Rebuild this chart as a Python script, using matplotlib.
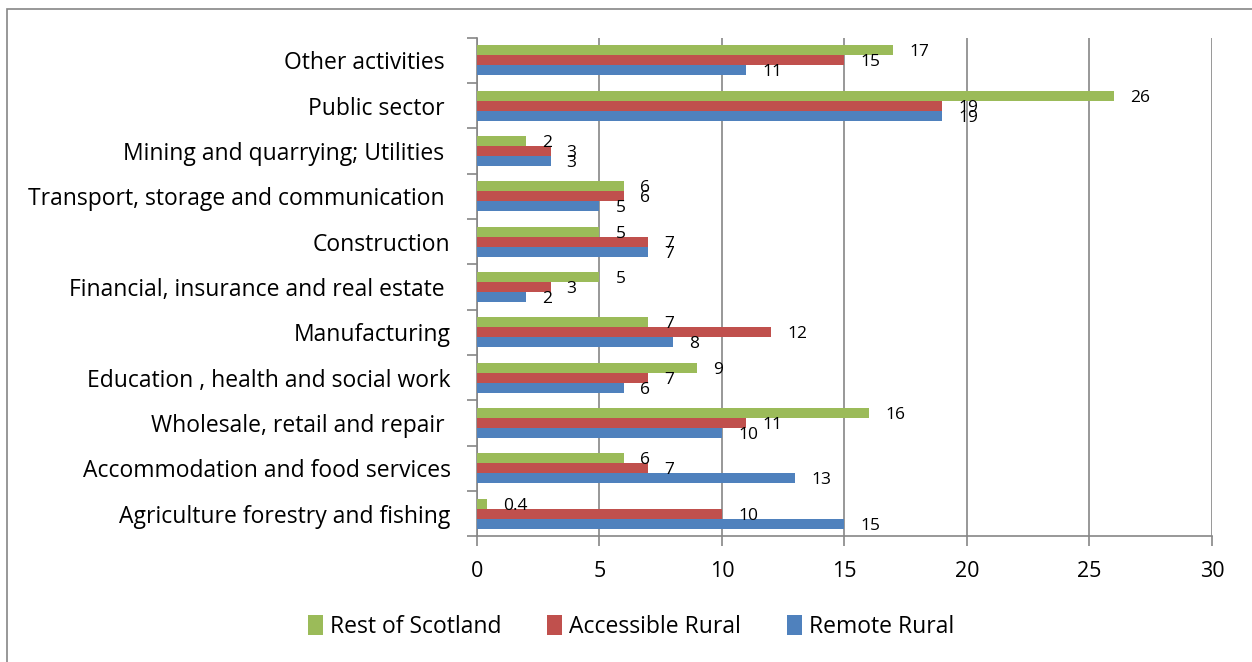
import matplotlib

matplotlib.use("Agg")
import matplotlib.pyplot as plt
import numpy as np
from matplotlib.patches import Rectangle

plt.rcParams["font.family"] = ["Open Sans", "DejaVu Sans"]

categories = [
    "Agriculture forestry and fishing",
    "Accommodation and food services",
    "Wholesale, retail and repair ",
    "Education , health and social work",
    "Manufacturing",
    "Financial, insurance and real estate ",
    "Construction",
    "Transport, storage and communication ",
    "Mining and quarrying; Utilities ",
    "Public sector ",
    "Other activities ",
]
remote_rural = [15, 13, 10, 6, 8, 2, 7, 5, 3, 19, 11]
accessible_rural = [10, 7, 11, 7, 12, 3, 7, 6, 3, 19, 15]
rest_of_scotland = [0.4, 6, 16, 9, 7, 5, 5, 6, 2, 26, 17]
x_ticks = [0, 5, 10, 15, 20, 25, 30]

COLORS = {
    "Remote Rural": "#4F81BD",
    "Accessible Rural": "#C0504D",
    "Rest of Scotland": "#9BBB59",
}
GRID = "#868686"

fig = plt.figure(figsize=(12.52, 6.62), dpi=100)
ax = fig.add_axes([0.381, 0.190, 0.587, 0.753])

y = np.arange(len(categories))
bh = 0.22
series = [
    ("Remote Rural", remote_rural, -bh),
    ("Accessible Rural", accessible_rural, 0.0),
    ("Rest of Scotland", rest_of_scotland, bh),
]
bars = {}
for name, vals, off in series:
    bars[name] = ax.barh(y + off, vals, height=bh, color=COLORS[name], label=name, zorder=3)
    for yi, v in zip(y + off, vals):
        label = f"{v:g}"
        ax.annotate(label, (v, yi), xytext=(16, -2), textcoords="offset pixels",
                    ha="left", va="center", fontsize=12.5, color="black", zorder=4)

ax.set_xlim(0, 30)
ax.set_ylim(-0.5, len(categories) - 0.5)
ax.set_xticks(x_ticks)
ax.set_xticklabels([str(t) for t in x_ticks], fontsize=15.5)
ax.set_yticks(y)
ax.set_yticklabels(categories, fontsize=16.5)
ax.set_yticks(np.arange(-0.5, len(categories)), minor=True)
ax.tick_params(axis="y", which="major", length=0, pad=19)
ax.tick_params(axis="y", which="minor", length=7, color=GRID, width=1.2)
ax.tick_params(axis="x", which="major", length=7, color=GRID, width=1.2, pad=11)
ax.grid(axis="x", color=GRID, linewidth=1.2, zorder=0)
for side in ("top", "right"):
    ax.spines[side].set_visible(False)
for side in ("left", "bottom"):
    ax.spines[side].set_color(GRID)
    ax.spines[side].set_linewidth(1.2)

handles = [bars["Rest of Scotland"], bars["Accessible Rural"], bars["Remote Rural"]]
fig.legend(handles=handles, labels=["Rest of Scotland", "Accessible Rural", "Remote Rural"],
           loc="center", bbox_to_anchor=(0.504, 0.053), ncol=3, frameon=False,
           fontsize=16.5, handlelength=0.65, handleheight=0.95, columnspacing=2.0,
           handletextpad=0.3)

# outer chart border
fig.patches.append(Rectangle((7 / 1252, -0.05), 1.2, 1 - 9 / 662 + 0.05,
                             transform=fig.transFigure, fill=False,
                             edgecolor="#868686", linewidth=1.2))

fig.savefig("out.png", dpi=100)
